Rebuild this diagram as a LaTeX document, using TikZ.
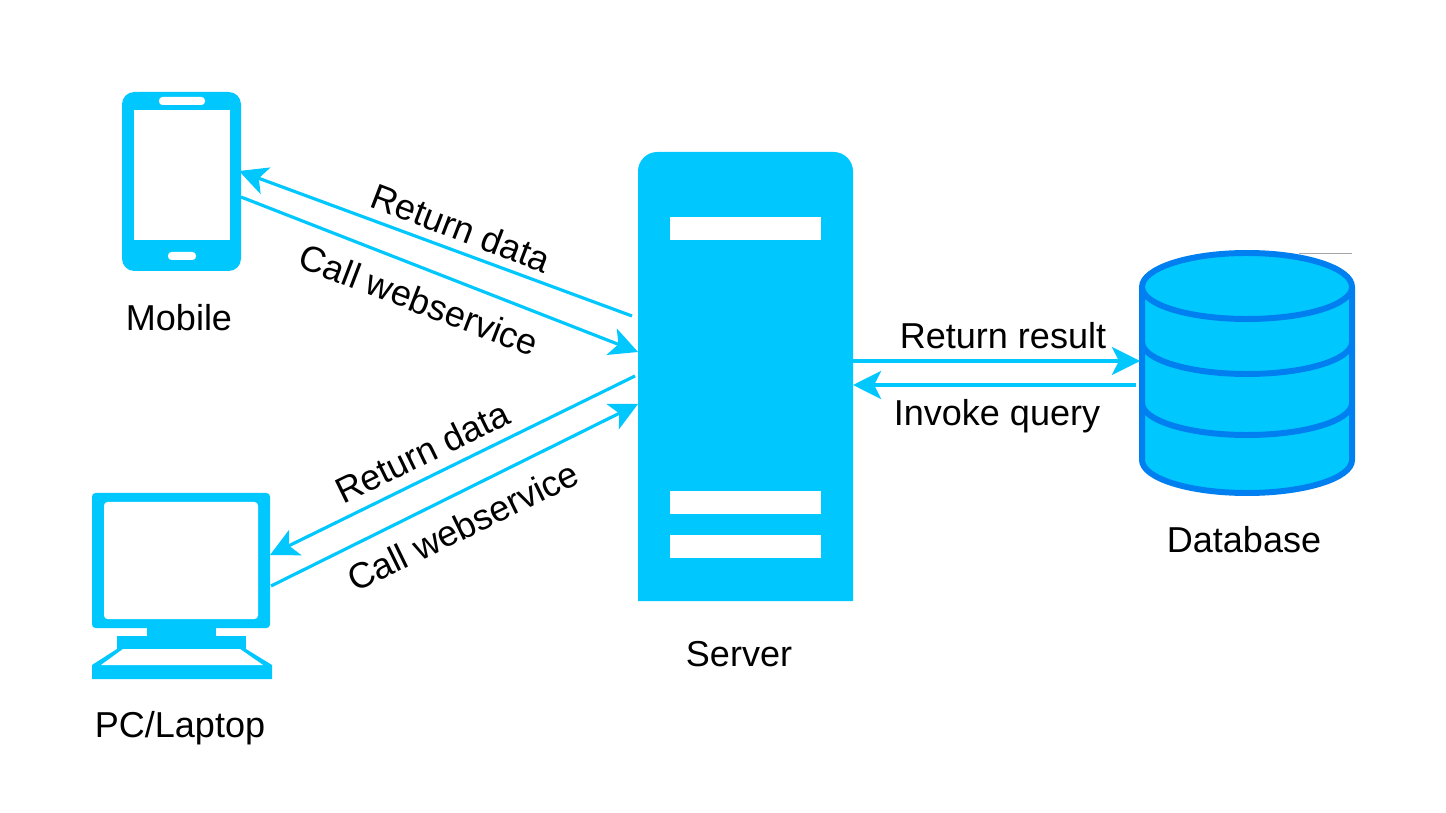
\documentclass[tikz,border=0pt]{standalone}
\usepackage{fontspec}
\setmainfont{Liberation Sans}
\usepackage{xcolor}
\usepackage{tikz}
\usetikzlibrary{arrows.meta}

\definecolor{devblue}{HTML}{00C8FF}
\definecolor{dbline}{HTML}{0080F0}

\begin{document}
\begin{tikzpicture}[x=0.02cm,y=-0.02cm]

\tikzset{link/.style={draw=devblue, line width=1.8pt, -{Stealth[length=16pt,width=16pt,inset=4pt]}},
label/.style={font=\fontsize{20.5}{24}\selectfont, inner sep=0pt},
dbstroke/.style={draw=dbline, line width=3.4pt, fill=devblue}}

\useasboundingbox (0,0) rectangle (1446,813);
\fill[white] (0,0) rectangle (1446,813);

%mobile
\fill[devblue, rounded corners=7pt] (122,92) rectangle (241,271);
\fill[white] (134,110) rectangle (230,240);
\fill[white, rounded corners=2pt] (159,97) rectangle (205,105);
\fill[white, rounded corners=2pt] (168,252) rectangle (196,260);

%pc
\fill[devblue, rounded corners=2pt] (92,493) rectangle (270,628);
\fill[white, rounded corners=2pt] (104,502) rectangle (258,619);
\fill[devblue] (147,628) rectangle (216,636);
\fill[devblue] (117,636) rectangle (246,649);
\fill[devblue] (117,649) -- (246,649) -- (272,665) -- (272,679) -- (92,679) -- (92,665) -- cycle;
\fill[white] (123,649) -- (240,649) -- (263,665) -- (101,665) -- cycle;

%server
\fill[devblue] (638,601) [rounded corners=11pt] -- (638,152) -- (853,152) [sharp corners] -- (853,601) -- cycle;
\foreach \y in {217,491,535}
\fill[white] (670,\y) rectangle (821,\y+23);

%database
\filldraw[dbstroke] (1142,287) -- (1142,460) arc[start angle=180,end angle=0,x radius=105,y radius=33] -- (1352,287) arc[start angle=0,end angle=-180,x radius=105,y radius=34] -- cycle;
\foreach \y in {287,342,403}
\draw[draw=dbline, line width=3.4pt] (1142,\y) arc[start angle=180,end angle=0,x radius=105,y radius=32];
\draw[gray!70, line width=0.5pt] (1299,253.5) -- (1352,253.5);

\foreach \n/\x/\y in {srvA/632/316, phnA/239/171, phnB/241/197, srvB/638/352, srvC/635/376, pcA/270/555, pcB/271/586, srvD/638/404, srvE/853/361, dbA/1140/361, dbB/1136/385, srvF/853/385}
\coordinate (\n) at (\x,\y);

\draw[link] (srvA) -- (phnA);
\draw[link] (phnB) -- (srvB);
\draw[link] (srvC) -- (pcA);
\draw[link] (pcB) -- (srvD);
\draw[link] (srvE) -- (dbA);
\draw[link] (dbB) -- (srvF);

\node[label] (mobile) at (179,318) {Mobile};
\node[label] (pclaptop) at (180,728) {PC/Laptop};
\node[label] (server) at (739,654) {Server};
\node[label] (database) at (1244,540) {Database};
\node[label] (result) at (1003,336) {Return result};
\node[label] (query) at (997,416) {Invoke query};
\node[label, rotate=-21] (retphone) at (461,228) {Return data};
\node[label, rotate=-21] (callphone) at (419,300) {Call webservice};
\node[label, rotate=26] (retpc) at (422,452) {Return data};
\node[label, rotate=26] (callpc) at (463,526) {Call webservice};

\end{tikzpicture}
\end{document}
